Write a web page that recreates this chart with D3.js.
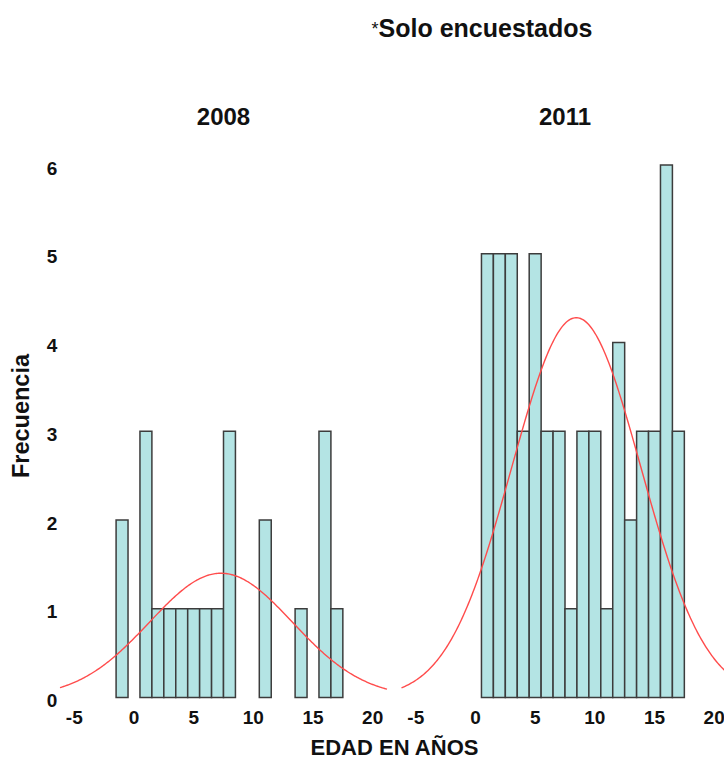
<!DOCTYPE html>
<html>
<head>
<meta charset="utf-8">
<script src="https://cdn.jsdelivr.net/npm/d3@7"></script>
<style>
  body { margin: 0; background: #fff; }
  text { font-family: "Liberation Sans", Arial, sans-serif; fill: #111; }
  .bar { fill: #b4e4e4; stroke: #3c3c3c; stroke-width: 1.5; }
  .curve { fill: none; stroke: #ff4c4c; stroke-width: 1.4; }
</style>
</head>
<body>
<div id="chart"></div>
<script>
// Age (years) bins, one unit wide, centred on the integer
const ages2008 = [-1, 1, 2, 3, 4, 5, 6, 7, 8, 11, 14, 16, 17];
const counts2008 = [2, 3, 1, 1, 1, 1, 1, 1, 3, 2, 1, 3, 1];

const ages2011 = [1, 2, 3, 4, 5, 6, 7, 8, 9, 10, 11, 12, 13, 14, 15, 16, 17];
const counts2011 = [5, 5, 5, 3, 5, 3, 3, 1, 3, 3, 1, 4, 2, 3, 3, 6, 3];

const panelTitles = ['2008', '2011'];
const xTicks = [-5, 0, 5, 10, 15, 20];
const yTicks = [0, 1, 2, 3, 4, 5, 6];

const W = 724, H = 760;
const binWidth = 1;
const xDomain = [-6.2, 21.2];
const panels = [
  { title: panelTitles[0], ages: ages2008, counts: counts2008, x0: 60, x1: 387 },
  { title: panelTitles[1], ages: ages2011, counts: counts2011, x0: 401.5, x1: 728.5 }
];

let svg = d3.select('#chart')
  .append('svg')
    .attr('width', W)
    .attr('height', H);

let y = d3.scaleLinear()
  .domain([0, 6])
  .range([697.5, 165]);

// Title
let title = svg.append('text')
    .attr('x', 482)
    .attr('y', 37)
    .attr('text-anchor', 'middle')
    .style('font-size', '25px')
    .style('font-weight', 'bold');
title.append('tspan')
    .style('font-size', '18px')
    .style('font-weight', 'normal')
    .attr('dy', -2)
    .text('*');
title.append('tspan')
    .attr('dy', 2)
    .text('Solo encuestados');

// Y axis labels (shared)
svg.append('g')
  .selectAll('text')
  .data(yTicks)
  .join('text')
    .attr('x', 52)
    .attr('y', d => y(d) + 3)
    .attr('dy', '0.35em')
    .attr('text-anchor', 'middle')
    .style('font-size', '19px')
    .style('font-weight', 'bold')
    .text(d => d);

svg.append('text')
    .attr('transform', 'translate(29,416) rotate(-90)')
    .attr('text-anchor', 'middle')
    .style('font-size', '23.5px')
    .style('font-weight', 'bold')
    .text('Frecuencia');

svg.append('text')
    .attr('x', 394.5)
    .attr('y', 755)
    .attr('text-anchor', 'middle')
    .style('font-size', '22px')
    .style('font-weight', 'bold')
    .text('EDAD EN AÑOS');

panels.forEach(p => {
  let x = d3.scaleLinear()
    .domain(xDomain)
    .range([p.x0, p.x1]);

  let g = svg.append('g');

  // Panel heading
  g.append('text')
      .attr('x', (p.x0 + p.x1) / 2)
      .attr('y', 125)
      .attr('text-anchor', 'middle')
      .style('font-size', '24px')
      .style('font-weight', 'bold')
      .text(p.title);

  // Bars
  let bins = p.ages.map((a, i) => ({ age: a, count: p.counts[i] }));
  g.selectAll('.bar')
    .data(bins)
    .join('rect')
      .attr('class', 'bar')
      .attr('x', d => x(d.age - binWidth / 2))
      .attr('width', d => x(d.age + binWidth / 2) - x(d.age - binWidth / 2))
      .attr('y', d => y(d.count))
      .attr('height', d => y(0) - y(d.count));

  // Normal curve from the sample mean / sd
  let values = [];
  bins.forEach(b => { for (let k = 0; k < b.count; k++) values.push(b.age); });
  let n = values.length,
    mean = d3.mean(values),
    sd = d3.deviation(values);
  let dens = t => n * binWidth * Math.exp(-0.5 * ((t - mean) / sd) ** 2) / (sd * Math.sqrt(2 * Math.PI));
  let pts = d3.range(xDomain[0], xDomain[1] + 0.001, 0.1);
  g.append('path')
      .attr('class', 'curve')
      .attr('d', d3.line().x(t => x(t)).y(t => y(dens(t)))(pts));

  // X tick labels
  g.append('g')
    .selectAll('text')
    .data(xTicks)
    .join('text')
      .attr('x', d => x(d))
      .attr('y', 717)
      .attr('dy', '0.35em')
      .attr('text-anchor', 'middle')
      .style('font-size', '19px')
      .style('font-weight', 'bold')
      .text(d => d);
});
</script>
</body>
</html>
